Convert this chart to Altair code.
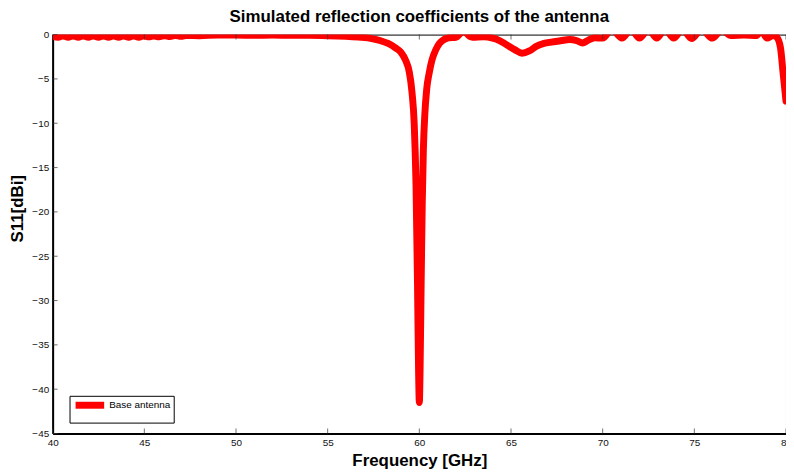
import altair as alt
import pandas as pd

# ---- data ----
freq = [40.0, 40.3, 40.55, 40.85, 41.1, 41.4, 41.65, 41.95, 42.2, 42.5, 42.75, 43.05,
        43.3, 43.6, 43.85, 44.15, 44.4, 44.7, 44.95, 45.25, 45.5, 45.8, 46.1, 46.4,
        46.7, 47.0, 47.3, 48.0, 49.0, 50.0, 51.0, 52.0, 53.0, 54.0, 55.0, 56.0,
        56.8, 57.4, 57.9, 58.3, 58.7, 59.0, 59.25, 59.45, 59.6, 59.72, 59.82, 59.9,
        59.96, 60.0, 60.04, 60.1, 60.16, 60.22, 60.3, 60.4, 60.55, 60.7, 60.9, 61.1,
        61.35, 61.6, 62.0, 62.3, 62.45, 62.6, 62.9, 63.5, 64.0, 64.4, 64.8, 65.2,
        65.6, 66.0, 66.4, 66.8, 67.2, 67.7, 68.2, 68.6, 68.9, 69.2, 69.6, 70.0,
        70.5, 71.05, 71.55, 72.0, 72.5, 72.95, 73.4, 73.87, 74.35, 74.85, 75.4, 75.98,
        76.5, 77.0, 77.7, 78.4, 78.65, 78.96, 79.3, 79.5, 79.7, 79.85, 80.0]
s11 = [-0.2, -0.3, -0.15, -0.3, -0.15, -0.3, -0.15, -0.3, -0.15, -0.3, -0.15, -0.3,
       -0.15, -0.3, -0.15, -0.3, -0.15, -0.3, -0.15, -0.25, -0.15, -0.25, -0.12, -0.22,
       -0.1, -0.2, -0.1, -0.12, -0.05, -0.05, -0.08, -0.05, -0.08, -0.08, -0.12, -0.2,
       -0.3, -0.45, -0.7, -1.0, -1.5, -2.0, -2.9, -4.2, -6.5, -10.0, -17.0, -28.0,
       -38.0, -41.5, -38.0, -28.0, -19.0, -13.0, -9.0, -6.2, -4.2, -2.8, -1.7, -1.0,
       -0.55, -0.35, -0.3, 0.3, 0.6, 0.1, -0.3, -0.25, -0.4, -0.7, -1.2, -1.7,
       -2.1, -1.85, -1.3, -1.0, -0.85, -0.7, -0.55, -0.7, -0.95, -0.65, -0.35, -0.4,
       0.6, -0.4, 0.6, -0.4, 0.6, -0.4, 0.6, -0.4, 0.6, -0.45, 0.6, -0.4,
       0.5, -0.1, -0.05, -0.1, 0.5, -0.4, -0.1, -0.3, -1.5, -4.5, -7.5]
series_name = "Base antenna"
x_ticks = [40, 45, 50, 55, 60, 65, 70, 75, 80]
y_ticks = [0, -5, -10, -15, -20, -25, -30, -35, -40, -45]

df = pd.DataFrame({"freq": freq, "s11": s11, "series": [series_name] * len(freq)})
xt = pd.DataFrame({"freq": x_ticks})
yt = pd.DataFrame({"s11": y_ticks})

FONT = "Liberation Sans"
W, H = 739, 402

xscale = alt.Scale(domain=[40, 80], nice=False, zero=False)
yscale = alt.Scale(domain=[-45, 0], nice=False, zero=False)

xaxis = alt.Axis(values=x_ticks, title="Frequency [GHz]", grid=False, ticks=False, tickSize=0,
                 domainColor="black", domainWidth=2, labelFont=FONT, labelFontSize=10,
                 labelColor="#111111", labelPadding=4, titleFont=FONT, titleFontSize=17,
                 titleFontWeight="bold", titleColor="black", titleX=W / 2, titleY=27,
                 titleBaseline="middle", labelFlush=False, labelOverlap=False)
yaxis = alt.Axis(values=y_ticks, title="S11[dBi]", grid=False, ticks=False, tickSize=0,
                 domainColor="black", domainWidth=2, labelFont=FONT, labelFontSize=10,
                 labelColor="#111111", labelPadding=4, titleFont=FONT, titleFontSize=17,
                 titleFontWeight="bold", titleColor="black", titleX=-35, titleY=175,
                 titleAngle=270, titleBaseline="middle", labelFlush=False, labelOverlap=False)

line = alt.Chart(df).mark_line(
    strokeWidth=7, strokeCap="round", strokeJoin="round", clip=True, interpolate="monotone"
).encode(
    x=alt.X("freq:Q", scale=xscale, axis=xaxis),
    y=alt.Y("s11:Q", scale=yscale, axis=yaxis),
    color=alt.Color("series:N",
                    scale=alt.Scale(domain=[series_name], range=["#ff0000"]),
                    legend=alt.Legend(title=None, orient="none", legendX=17, legendY=364,
                                      strokeColor="black", fillColor="white", padding=3,
                                      symbolType="M-4.8,0H4.8", symbolStrokeWidth=7, symbolSize=36,
                                      symbolOffset=11, labelOffset=13,
                                      labelFont=FONT, labelFontSize=10, labelColor="black",
                                      cornerRadius=0)),
)

tick_style = dict(color="#333333", thickness=1, size=5)

bottom_ticks = alt.Chart(xt).mark_tick(orient="vertical", yOffset=-2.5, **tick_style).encode(
    x=alt.X("freq:Q", scale=xscale), y=alt.datum(-45))
top_ticks = alt.Chart(xt).mark_tick(orient="vertical", yOffset=2.5, **tick_style).encode(
    x=alt.X("freq:Q", scale=xscale), y=alt.datum(0))
left_ticks = alt.Chart(yt).mark_tick(orient="horizontal", xOffset=2.5, **tick_style).encode(
    y=alt.Y("s11:Q", scale=yscale), x=alt.datum(40))

chart = alt.layer(line, bottom_ticks, top_ticks, left_ticks).properties(
    width=W, height=H,
    autosize=alt.AutoSizeParams(type="none"),
    padding={"left": 45, "top": 25, "right": 0, "bottom": 40},
    title=alt.TitleParams("Simulated reflection coefficients of the antenna", font=FONT,
                          fontSize=17, fontWeight="bold", color="black", anchor="middle",
                          baseline="bottom", offset=6, frame="group", dy=19),
).configure_view(stroke="black", strokeWidth=1)

chart.save("out.html", embed_options={"renderer": "svg", "actions": False})
